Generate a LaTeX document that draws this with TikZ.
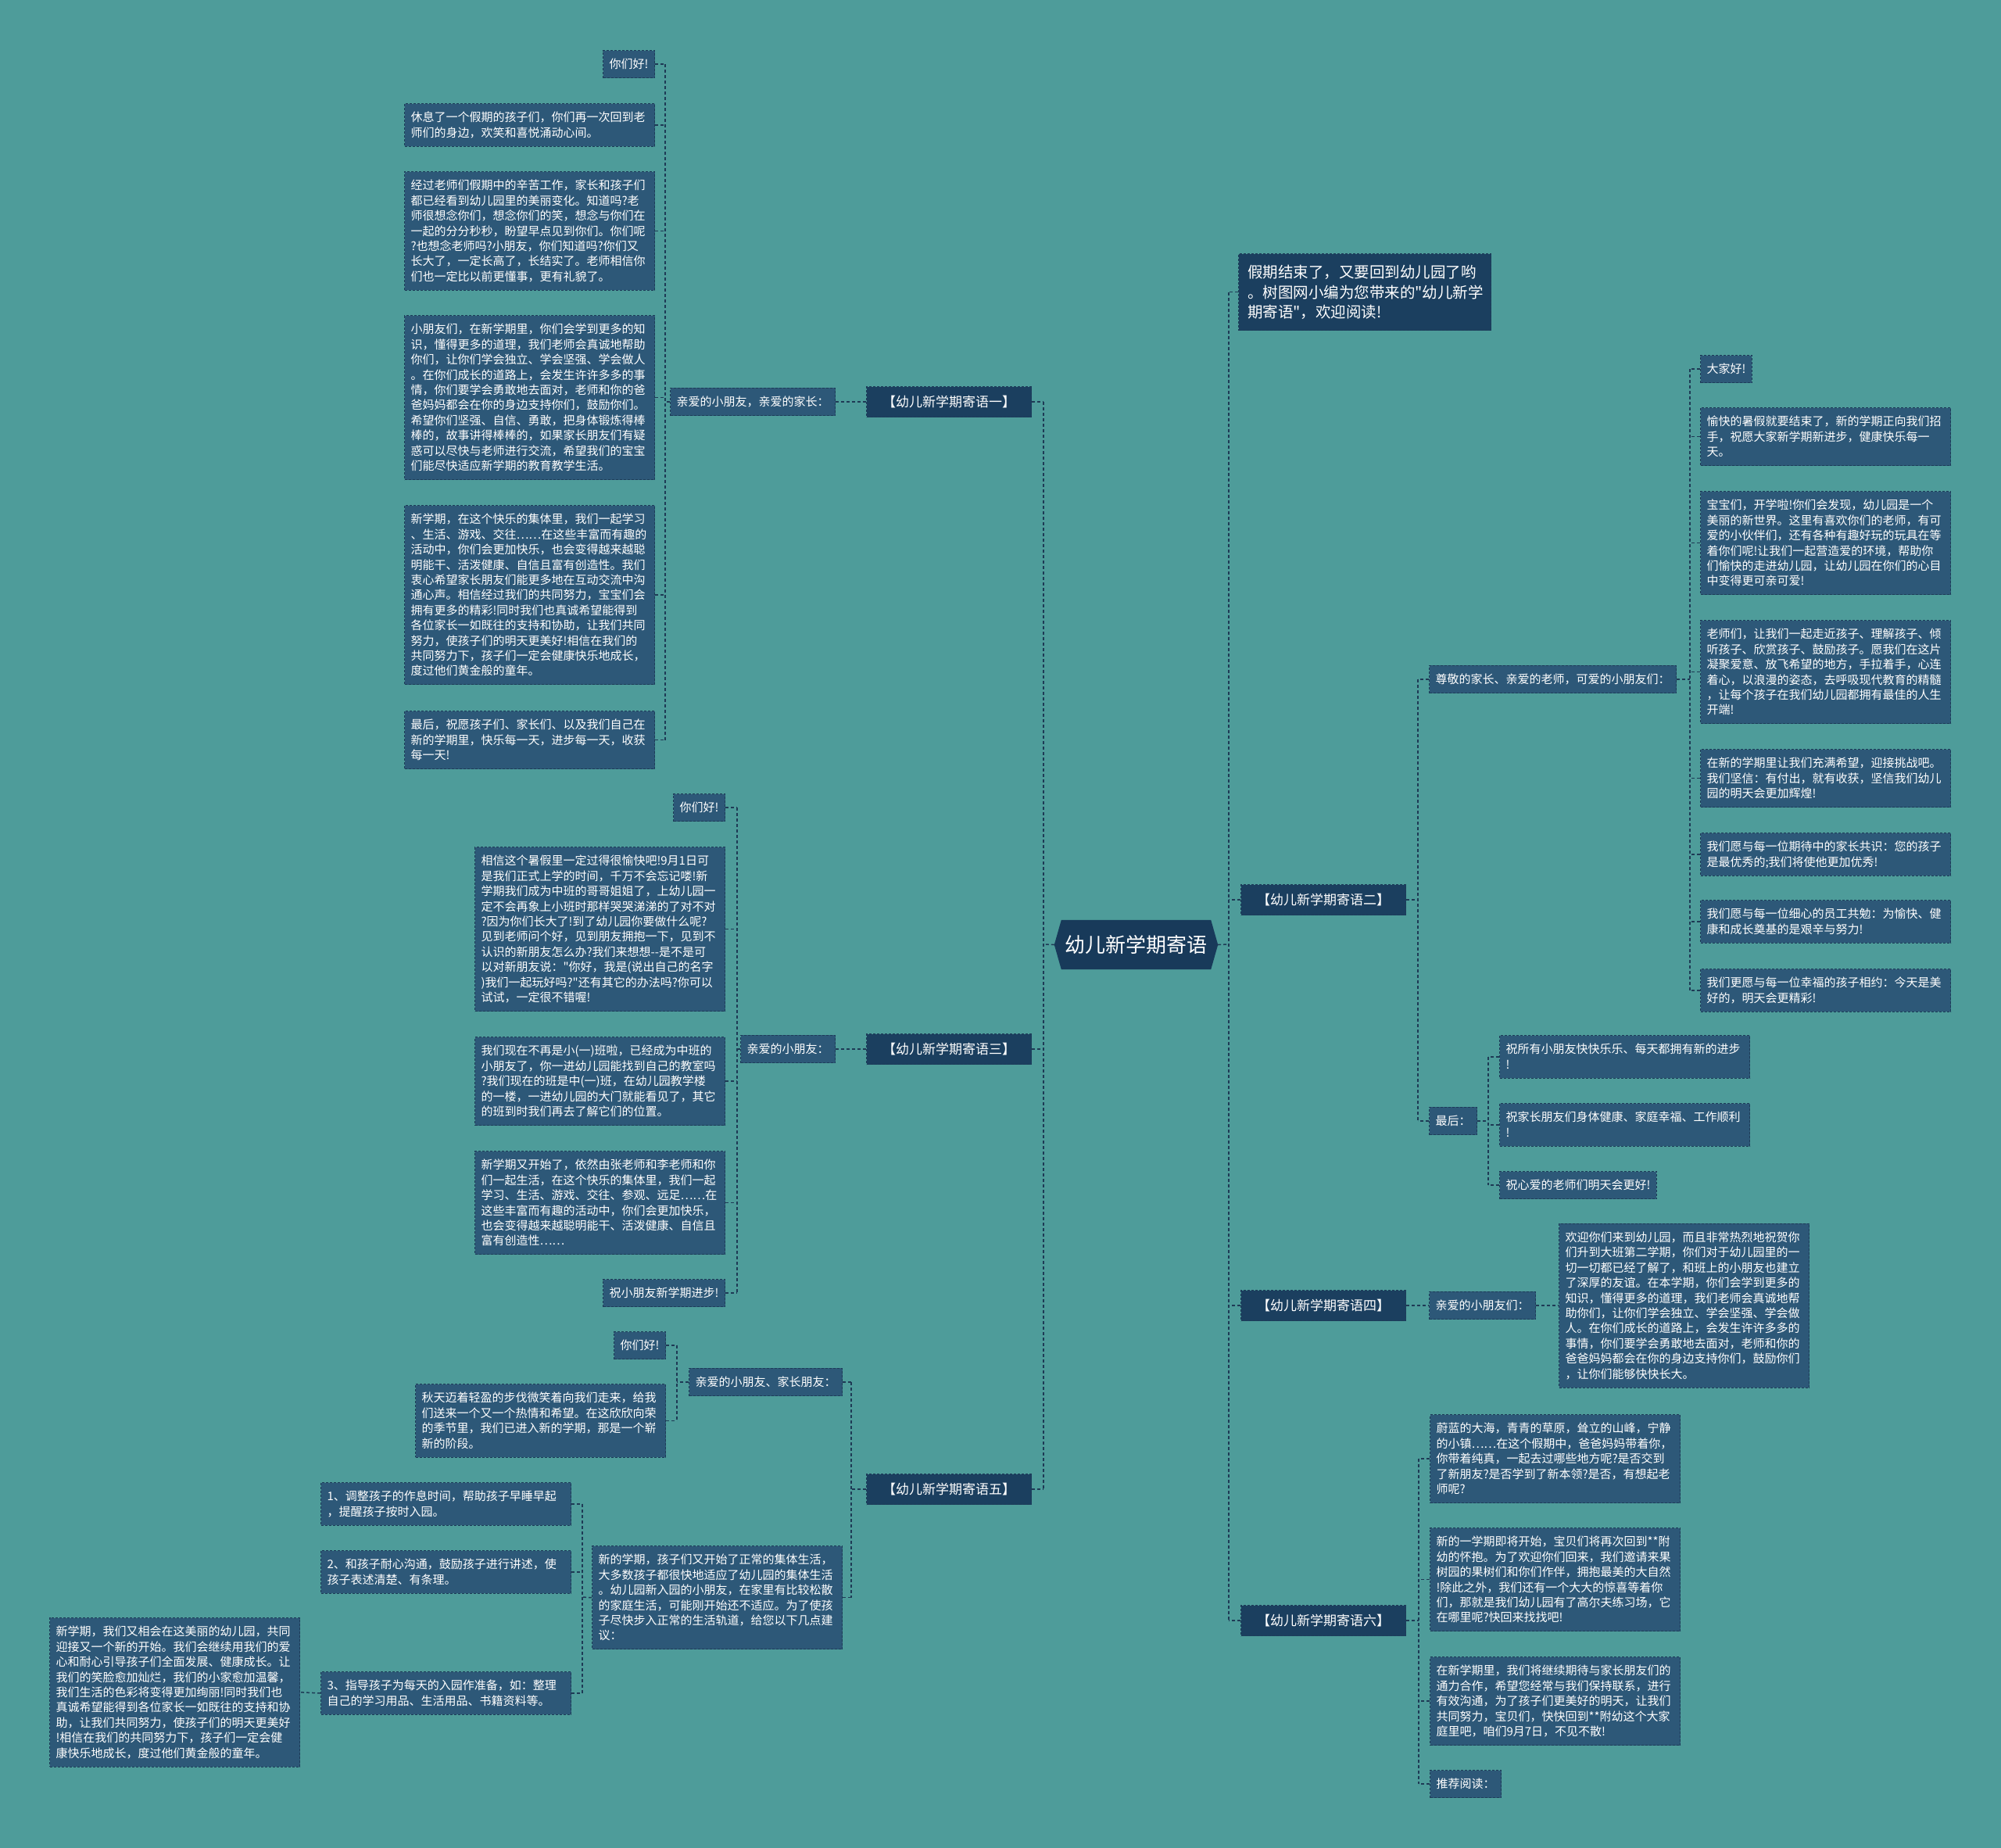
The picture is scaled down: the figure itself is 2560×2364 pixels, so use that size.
\documentclass[tikz,border=0pt]{standalone}
\usepackage{fontspec}
\setmainfont{Noto Sans CJK SC}
\newfontfamily\cnfont{Noto Sans CJK SC}
\usetikzlibrary{backgrounds}
\definecolor{mmbg}{HTML}{4E9C9A}
\definecolor{mmleaf}{HTML}{2D5878}
\definecolor{mmbranch}{HTML}{1B3F5F}
\definecolor{mmhub}{HTML}{183A5A}
\definecolor{mmline}{HTML}{1E3A55}
\definecolor{mmedge}{HTML}{1D3C58}
\newcommand{\lstrut}{\rule[-4pt]{0pt}{19.4pt}}
\newcommand{\istrut}{\rule[-5.3pt]{0pt}{25.8pt}}

\begin{document}
\begin{tikzpicture}[
  x=1pt, y=-1pt,
  every node/.style={text=white},
  box/.style={rectangle, fill=mmleaf, draw=mmedge, line width=1pt, dash pattern=on 3pt off 2pt,
    inner xsep=8pt, inner ysep=8pt, font=\cnfont\fontsize{15}{19.4}\selectfont,
    execute at begin node=\lstrut, execute at end node=\lstrut},
  para/.style={box, text width=304pt, align=left},
  branch/.style={rectangle, fill=mmbranch, draw=mmedge, line width=1pt, dash pattern=on 3pt off 2pt,
    minimum height=39pt, minimum width=211pt, inner xsep=8pt, font=\cnfont\fontsize{17}{20}\selectfont},
  intro/.style={rectangle, fill=mmbranch, draw=mmedge, line width=1pt, dash pattern=on 3pt off 2pt,
    text width=300pt, align=left, inner xsep=11.5pt, inner ysep=10.3pt,
    font=\cnfont\fontsize{19.5}{25.8}\selectfont, execute at begin node=\istrut, execute at end node=\istrut},
  hub/.style={rectangle, minimum width=191pt, minimum height=63pt, inner sep=0pt, font=\cnfont\fontsize{26}{30}\selectfont},
  link/.style={draw=mmline, line width=1.5pt, dash pattern=on 4pt off 3pt},
]
\useasboundingbox (0,0) rectangle (2560,2364);

\node[hub] (hub) at (1453.5,1208.5) {幼儿新学期寄语};

% left: branch one
\node[branch, anchor=east] (br1) at (1320,514) {【幼儿新学期寄语一】};
\node[box, anchor=east] (s1) at (1069,514) {亲爱的小朋友，亲爱的家长：};
\node[box, anchor=north east] (b1a) at (838,64) {你们好!};
\node[para, anchor=north east] (b1b) at (838,132) {休息了一个假期的孩子们，你们再一次回到老\\师们的身边，欢笑和喜悦涌动心间。};
\node[para, anchor=north east] (b1c) at (838,219) {经过老师们假期中的辛苦工作，家长和孩子们\\都已经看到幼儿园里的美丽变化。知道吗?老\\师很想念你们，想念你们的笑，想念与你们在\\一起的分分秒秒，盼望早点见到你们。你们呢\\?也想念老师吗?小朋友，你们知道吗?你们又\\长大了，一定长高了，长结实了。老师相信你\\们也一定比以前更懂事，更有礼貌了。};
\node[para, anchor=north east] (b1d) at (838,403) {小朋友们，在新学期里，你们会学到更多的知\\识，懂得更多的道理，我们老师会真诚地帮助\\你们，让你们学会独立、学会坚强、学会做人\\。在你们成长的道路上，会发生许许多多的事\\情，你们要学会勇敢地去面对，老师和你的爸\\爸妈妈都会在你的身边支持你们，鼓励你们。\\希望你们坚强、自信、勇敢，把身体锻炼得棒\\棒的，故事讲得棒棒的，如果家长朋友们有疑\\惑可以尽快与老师进行交流，希望我们的宝宝\\们能尽快适应新学期的教育教学生活。};
\node[para, anchor=north east] (b1e) at (838,646) {新学期，在这个快乐的集体里，我们一起学习\\、生活、游戏、交往……在这些丰富而有趣的\\活动中，你们会更加快乐，也会变得越来越聪\\明能干、活泼健康、自信且富有创造性。我们\\衷心希望家长朋友们能更多地在互动交流中沟\\通心声。相信经过我们的共同努力，宝宝们会\\拥有更多的精彩!同时我们也真诚希望能得到\\各位家长一如既往的支持和协助，让我们共同\\努力，使孩子们的明天更美好!相信在我们的\\共同努力下，孩子们一定会健康快乐地成长，\\度过他们黄金般的童年。};
\node[para, anchor=north east] (b1f) at (838,909) {最后，祝愿孩子们、家长们、以及我们自己在\\新的学期里，快乐每一天，进步每一天，收获\\每一天!};

% left: branch three
\node[branch, anchor=east] (br3) at (1320,1342) {【幼儿新学期寄语三】};
\node[box, anchor=east] (s3) at (1069,1342) {亲爱的小朋友：};
\node[box, anchor=north east] (b3a) at (928,1015) {你们好!};
\node[para, anchor=north east] (b3b) at (928,1083) {相信这个暑假里一定过得很愉快吧!9月1日可\\是我们正式上学的时间，千万不会忘记喽!新\\学期我们成为中班的哥哥姐姐了，上幼儿园一\\定不会再象上小班时那样哭哭涕涕的了对不对\\?因为你们长大了!到了幼儿园你要做什么呢?\\见到老师问个好，见到朋友拥抱一下，见到不\\认识的新朋友怎么办?我们来想想-{}-是不是可\\以对新朋友说："你好，我是(说出自己的名字\\)我们一起玩好吗?"还有其它的办法吗?你可以\\试试，一定很不错喔!};
\node[para, anchor=north east] (b3c) at (928,1326) {我们现在不再是小(一)班啦，已经成为中班的\\小朋友了，你一进幼儿园能找到自己的教室吗\\?我们现在的班是中(一)班，在幼儿园教学楼\\的一楼，一进幼儿园的大门就能看见了，其它\\的班到时我们再去了解它们的位置。};
\node[para, anchor=north east] (b3d) at (928,1472) {新学期又开始了，依然由张老师和李老师和你\\们一起生活，在这个快乐的集体里，我们一起\\学习、生活、游戏、交往、参观、远足……在\\这些丰富而有趣的活动中，你们会更加快乐，\\也会变得越来越聪明能干、活泼健康、自信且\\富有创造性……};
\node[box, anchor=north east] (b3e) at (928,1636) {祝小朋友新学期进步!};

% left: branch five
\node[branch, anchor=east] (br5) at (1320,1905) {【幼儿新学期寄语五】};
\node[box, anchor=east] (s5a) at (1078,1768) {亲爱的小朋友、家长朋友：};
\node[para, anchor=north east] (s5b) at (1078,1977) {新的学期，孩子们又开始了正常的集体生活，\\大多数孩子都很快地适应了幼儿园的集体生活\\。幼儿园新入园的小朋友，在家里有比较松散\\的家庭生活，可能刚开始还不适应。为了使孩\\子尽快步入正常的生活轨道，给您以下几点建\\议：};
\node[box, anchor=north east] (b5a) at (852,1703) {你们好!};
\node[para, anchor=north east] (b5b) at (852,1770) {秋天迈着轻盈的步伐微笑着向我们走来，给我\\们送来一个又一个热情和希望。在这欣欣向荣\\的季节里，我们已进入新的学期，那是一个崭\\新的阶段。};
\node[para, anchor=north east] (b5c) at (731,1896) {1、调整孩子的作息时间，帮助孩子早睡早起\\，提醒孩子按时入园。};
\node[para, anchor=north east] (b5d) at (731,1983) {2、和孩子耐心沟通，鼓励孩子进行讲述，使\\孩子表述清楚、有条理。};
\node[para, anchor=north east] (b5e) at (731,2138) {3、指导孩子为每天的入园作准备，如：整理\\自己的学习用品、生活用品、书籍资料等。};
\node[para, anchor=north east] (b5f) at (384,2069) {新学期，我们又相会在这美丽的幼儿园，共同\\迎接又一个新的开始。我们会继续用我们的爱\\心和耐心引导孩子们全面发展、健康成长。让\\我们的笑脸愈加灿烂，我们的小家愈加温馨，\\我们生活的色彩将变得更加绚丽!同时我们也\\真诚希望能得到各位家长一如既往的支持和协\\助，让我们共同努力，使孩子们的明天更美好\\!相信在我们的共同努力下，孩子们一定会健\\康快乐地成长，度过他们黄金般的童年。};

% right: intro and branch two
\node[intro, anchor=north west] (intro) at (1584,324) {假期结束了，又要回到幼儿园了哟\\。树图网小编为您带来的"幼儿新学\\期寄语"，欢迎阅读!};
\node[branch, anchor=west] (br2) at (1587,1151) {【幼儿新学期寄语二】};
\node[box, anchor=west] (s2a) at (1828,869) {尊敬的家长、亲爱的老师，可爱的小朋友们：};
\node[box, anchor=west] (s2b) at (1828,1434) {最后：};
\node[box, anchor=north west] (r2a) at (2175,454) {大家好!};
\node[para, anchor=north west] (r2b) at (2175,521) {愉快的暑假就要结束了，新的学期正向我们招\\手，祝愿大家新学期新进步，健康快乐每一\\天。};
\node[para, anchor=north west] (r2c) at (2175,628) {宝宝们，开学啦!你们会发现，幼儿园是一个\\美丽的新世界。这里有喜欢你们的老师，有可\\爱的小伙伴们，还有各种有趣好玩的玩具在等\\着你们呢!让我们一起营造爱的环境，帮助你\\们愉快的走进幼儿园，让幼儿园在你们的心目\\中变得更可亲可爱!};
\node[para, anchor=north west] (r2d) at (2175,793) {老师们，让我们一起走近孩子、理解孩子、倾\\听孩子、欣赏孩子、鼓励孩子。愿我们在这片\\凝聚爱意、放飞希望的地方，手拉着手，心连\\着心，以浪漫的姿态，去呼吸现代教育的精髓\\，让每个孩子在我们幼儿园都拥有最佳的人生\\开端!};
\node[para, anchor=north west] (r2e) at (2175,958) {在新的学期里让我们充满希望，迎接挑战吧。\\我们坚信：有付出，就有收获，坚信我们幼儿\\园的明天会更加辉煌!};
\node[para, anchor=north west] (r2f) at (2175,1065) {我们愿与每一位期待中的家长共识：您的孩子\\是最优秀的;我们将使他更加优秀!};
\node[para, anchor=north west] (r2g) at (2175,1151) {我们愿与每一位细心的员工共勉：为愉快、健\\康和成长奠基的是艰辛与努力!};
\node[para, anchor=north west] (r2h) at (2175,1239) {我们更愿与每一位幸福的孩子相约：今天是美\\好的，明天会更精彩!};
\node[para, anchor=north west] (r2i) at (1918,1324) {祝所有小朋友快快乐乐、每天都拥有新的进步\\!};
\node[para, anchor=north west] (r2j) at (1918,1411) {祝家长朋友们身体健康、家庭幸福、工作顺利\\!};
\node[box, anchor=north west] (r2k) at (1918,1498) {祝心爱的老师们明天会更好!};

% right: branch four
\node[branch, anchor=west] (br4) at (1587,1670) {【幼儿新学期寄语四】};
\node[box, anchor=west] (s4) at (1828,1670) {亲爱的小朋友们：};
\node[para, anchor=west] (r4a) at (1994,1670) {欢迎你们来到幼儿园，而且非常热烈地祝贺你\\们升到大班第二学期，你们对于幼儿园里的一\\切一切都已经了解了，和班上的小朋友也建立\\了深厚的友谊。在本学期，你们会学到更多的\\知识，懂得更多的道理，我们老师会真诚地帮\\助你们，让你们学会独立、学会坚强、学会做\\人。在你们成长的道路上，会发生许许多多的\\事情，你们要学会勇敢地去面对，老师和你的\\爸爸妈妈都会在你的身边支持你们，鼓励你们\\，让你们能够快快长大。};

% right: branch six
\node[branch, anchor=west] (br6) at (1587,2073) {【幼儿新学期寄语六】};
\node[para, anchor=north west] (r6a) at (1829,1809) {蔚蓝的大海，青青的草原，耸立的山峰，宁静\\的小镇……在这个假期中，爸爸妈妈带着你，\\你带着纯真，一起去过哪些地方呢?是否交到\\了新朋友?是否学到了新本领?是否，有想起老\\师呢?};
\node[para, anchor=north west] (r6b) at (1829,1954) {新的一学期即将开始，宝贝们将再次回到**附\\幼的怀抱。为了欢迎你们回来，我们邀请来果\\树园的果树们和你们作伴，拥抱最美的大自然\\!除此之外，我们还有一个大大的惊喜等着你\\们，那就是我们幼儿园有了高尔夫练习场，它\\在哪里呢?快回来找找吧!};
\node[para, anchor=north west] (r6c) at (1829,2119) {在新学期里，我们将继续期待与家长朋友们的\\通力合作，希望您经常与我们保持联系，进行\\有效沟通，为了孩子们更美好的明天，让我们\\共同努力，宝贝们，快快回到**附幼这个大家\\庭里吧，咱们9月7日，不见不散!};
\node[box, anchor=north west] (r6d) at (1829,2264) {推荐阅读：};

% junctions
\coordinate (kl) at (1335,1208);
\coordinate (kr) at (1572,1208);
\coordinate (k1) at (851,514);
\coordinate (k3) at (943,1342);
\coordinate (k5) at (1089,1905);
\coordinate (k5a) at (866,1768);
\coordinate (k5b) at (745,2043);
\coordinate (k2) at (1814,1151);
\coordinate (k2a) at (2162,869);
\coordinate (k2b) at (1904,1434);
\coordinate (k6) at (1815,2073);

% trunks
\draw[link] ([xshift=-9pt]hub.west) -- (kl);
\draw[link] (br1.east -| kl) -- (br5.east -| kl);
\foreach \n in {br1,br3,br5} \draw[link] (\n.east) -- (\n.east -| kl);
\draw[link] ([xshift=9pt]hub.east) -- (kr);
\draw[link] (intro.west -| kr) -- (br6.west -| kr);
\foreach \n in {intro,br2,br4,br6} \draw[link] (\n.west) -- (\n.west -| kr);

% branch one
\draw[link] (br1.west) -- (s1.east);
\draw[link] (s1.west) -- (k1);
\draw[link] (b1a.east -| k1) -- (b1f.east -| k1);
\foreach \n in {b1a,b1b,b1c,b1d,b1e,b1f} \draw[link] (\n.east) -- (\n.east -| k1);

% branch three
\draw[link] (br3.west) -- (s3.east);
\draw[link] (s3.west) -- (k3);
\draw[link] (b3a.east -| k3) -- (b3e.east -| k3);
\foreach \n in {b3a,b3b,b3c,b3d,b3e} \draw[link] (\n.east) -- (\n.east -| k3);

% branch five
\draw[link] (br5.west) -- (k5);
\draw[link] (s5a.east -| k5) -- (s5b.east -| k5);
\foreach \n in {s5a,s5b} \draw[link] (\n.east) -- (\n.east -| k5);
\draw[link] (s5a.west) -- (k5a);
\draw[link] (b5a.east -| k5a) -- (b5b.east -| k5a);
\foreach \n in {b5a,b5b} \draw[link] (\n.east) -- (\n.east -| k5a);
\draw[link] (s5b.west) -- (k5b);
\draw[link] (b5c.east -| k5b) -- (b5e.east -| k5b);
\foreach \n in {b5c,b5d,b5e} \draw[link] (\n.east) -- (\n.east -| k5b);
\draw[link] (b5e.west) -- (b5f.east);

% branch two
\draw[link] (br2.east) -- (k2);
\draw[link] (s2a.west -| k2) -- (s2b.west -| k2);
\foreach \n in {s2a,s2b} \draw[link] (\n.west) -- (\n.west -| k2);
\draw[link] (s2a.east) -- (k2a);
\draw[link] (r2a.west -| k2a) -- (r2h.west -| k2a);
\foreach \n in {r2a,r2b,r2c,r2d,r2e,r2f,r2g,r2h} \draw[link] (\n.west) -- (\n.west -| k2a);
\draw[link] (s2b.east) -- (k2b);
\draw[link] (r2i.west -| k2b) -- (r2k.west -| k2b);
\foreach \n in {r2i,r2j,r2k} \draw[link] (\n.west) -- (\n.west -| k2b);

% branch four
\draw[link] (br4.east) -- (s4.west);
\draw[link] (s4.east) -- (r4a.west);

% branch six
\draw[link] (br6.east) -- (k6);
\draw[link] (r6a.west -| k6) -- (r6d.west -| k6);
\foreach \n in {r6a,r6b,r6c,r6d} \draw[link] (\n.west) -- (\n.west -| k6);

\begin{scope}[on background layer]
  \fill[mmbg] (0,0) rectangle (2560,2364);
  \fill[mmhub] ([xshift=-9pt]hub.west) -- (hub.north west) -- (hub.north east)
    -- ([xshift=9pt]hub.east) -- (hub.south east) -- (hub.south west) -- cycle;
\end{scope}
\end{tikzpicture}
\end{document}
